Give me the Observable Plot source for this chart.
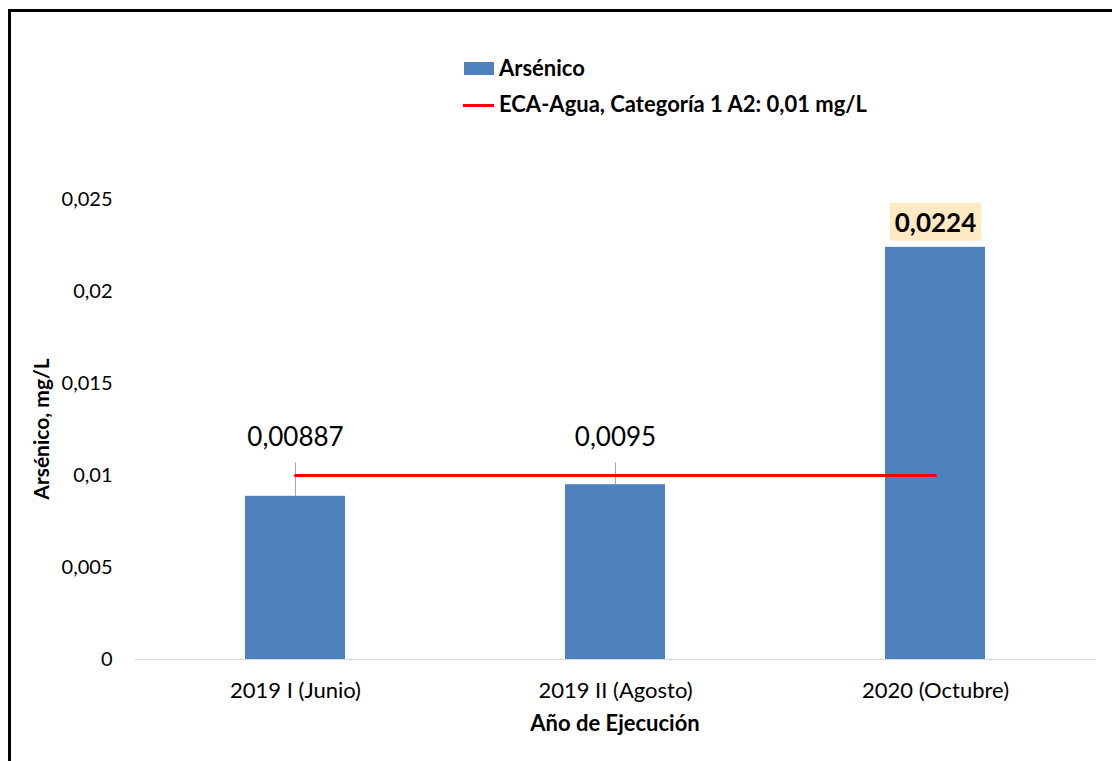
<!DOCTYPE html>
<html>
<head>
<meta charset="utf-8">
<script src="https://cdn.jsdelivr.net/npm/d3@7"></script>
<script src="https://cdn.jsdelivr.net/npm/@observablehq/plot@0.6"></script>
<style>
  html, body { margin: 0; padding: 0; background: #fff; }
  #wrap { position: relative; width: 1112px; height: 761px; overflow: hidden; font-family: Lato, "Open Sans", sans-serif; color: #000; }
  #frame { position: absolute; left: 8px; top: 9px; width: 1200px; height: 1000px; border: 3px solid #000; box-sizing: border-box; }
  #chart { position: absolute; left: 0; top: 0; }
  .abs { position: absolute; white-space: nowrap; }
  .legtext { font-weight: bold; font-size: 22px; }
</style>
</head>
<body>
<div id="wrap">
  <div id="frame"></div>
  <div id="chart"></div>
  <div class="abs" style="left:464px; top:62px; width:30px; height:13px; background:#4F81BD;"></div>
  <div class="abs legtext" style="left:499px; top:54px;">Arsénico</div>
  <div class="abs" style="left:463px; top:104px; width:31px; height:3px; background:#FF0000;"></div>
  <div class="abs legtext" style="left:499px; top:90px;">ECA-Agua, Categoría 1 A2: 0,01 mg/L</div>
  <div class="abs legtext" style="left:615px; top:709px; transform:translateX(-50%);">Año de Ejecución</div>
  <div class="abs legtext" style="left:40px; top:429px; font-size:21px; transform:translate(-50%,-50%) rotate(-90deg);">Arsénico, mg/L</div>
</div>
<script>
const categories = ["2019 I (Junio)", "2019 II (Agosto)", "2020 (Octubre)"];
const arsenico = [0.00887, 0.0095, 0.0224];
const arsenicoLabels = ["0,00887", "0,0095", "0,0224"];
const ecaLimit = [0.01, 0.01, 0.01];
const yTicks = [0, 0.005, 0.01, 0.015, 0.02, 0.025];
const yTickLabels = ["0", "0,005", "0,01", "0,015", "0,02", "0,025"];
const leaderTop = 0.0107; // level where the moved data labels sit (data units)

const data = categories.map((c, i) => ({cat: c, value: arsenico[i], label: arsenicoLabels[i], eca: ecaLimit[i]}));
const moved = data.slice(0, 2);
const highlighted = data.slice(2);

const chart = Plot.plot({
  width: 1112,
  height: 761,
  marginLeft: 135,
  marginRight: 17,
  marginTop: 199,
  marginBottom: 102,
  style: {fontFamily: "Lato, 'Open Sans', sans-serif", fontSize: "20px", color: "#000", background: "transparent", overflow: "visible"},
  x: {domain: categories, padding: 0, round: false, label: null},
  y: {domain: [0, 0.025], label: null},
  marks: [
    Plot.axisY({ticks: yTicks, tickFormat: d => yTickLabels[yTicks.indexOf(d)], tickSize: 0, tickPadding: 23, fontSize: 20, label: null}),
    Plot.axisX({tickSize: 0, tickPadding: 23, fontSize: 22, label: null}),
    Plot.ruleY([0], {stroke: "#d9d9d9", strokeWidth: 1}),
    Plot.barY(data, {x: "cat", y: "value", fill: "#4F81BD", insetLeft: 110, insetRight: 110}),
    Plot.link(moved, {x1: "cat", x2: "cat", y1: "value", y2: () => leaderTop, stroke: "#a6a6a6", strokeWidth: 1}),
    Plot.line(data, {x: "cat", y: "eca", stroke: "#FF0000", strokeWidth: 3}),
    Plot.text(moved, {x: "cat", y: () => leaderTop, text: "label", dy: -25, fontSize: 26, fill: "#000"}),
    Plot.text(highlighted, {x: "cat", y: "value", text: "label", dy: -24, fontSize: 26, fontWeight: "bold", fill: "#000", className: "hl"})
  ]
});
document.getElementById("chart").appendChild(chart);

// background box behind the highlighted label
const svg = d3.select(chart);
svg.selectAll("g.hl text").each(function() {
  const b = this.getBBox();
  const padX = 5, padY = 4;
  d3.select(this.parentNode).insert("rect", () => this)
    .attr("x", b.x - padX).attr("y", b.y - padY + 1)
    .attr("width", b.width + 2 * padX).attr("height", b.height + 2 * padY - 2)
    .attr("fill", "#FDE9C3")
    .attr("transform", this.getAttribute("transform"));
});
</script>
</body>
</html>
